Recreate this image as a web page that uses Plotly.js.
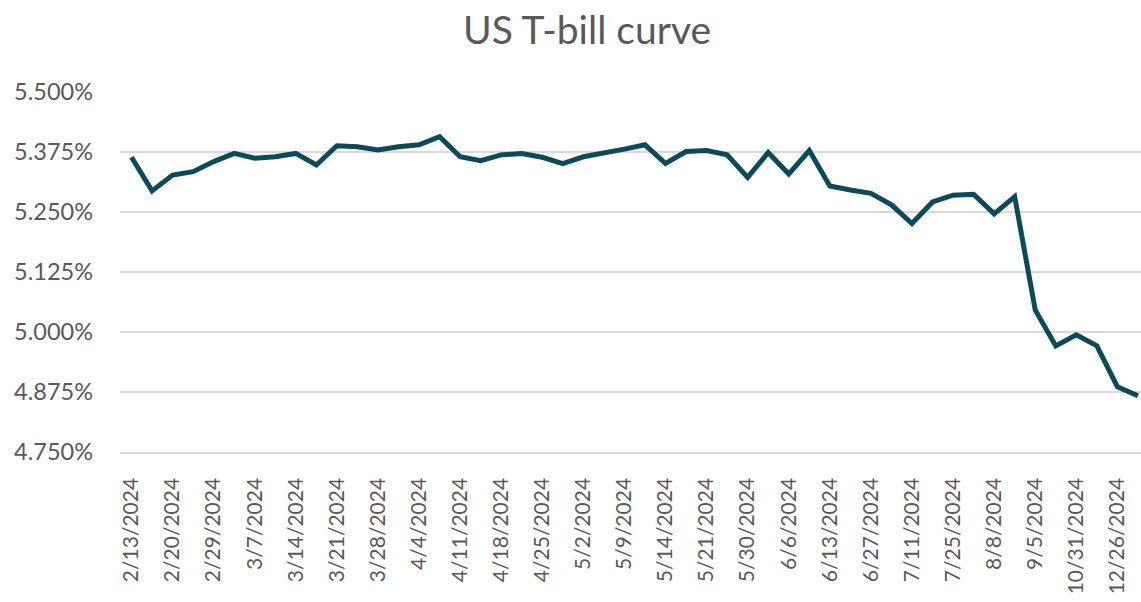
<!DOCTYPE html>
<html>
<head>
<meta charset="utf-8">
<script src="https://cdn.plot.ly/plotly-3.0.1.min.js"></script>
<style>
  html, body { margin: 0; padding: 0; background: #ffffff; }
  #chart { width: 1141px; height: 602px; }
</style>
</head>
<body>
<div id="chart"></div>
<script>
// Tick labels shown on the category axis (every other observation)
const tickLabels = [
  "2/13/2024", "2/20/2024", "2/29/2024", "3/7/2024", "3/14/2024", "3/21/2024",
  "3/28/2024", "4/4/2024", "4/11/2024", "4/18/2024", "4/25/2024", "5/2/2024",
  "5/9/2024", "5/14/2024", "5/21/2024", "5/30/2024", "6/6/2024", "6/13/2024",
  "6/27/2024", "7/11/2024", "7/25/2024", "8/8/2024", "9/5/2024", "10/31/2024",
  "12/26/2024"
];

const yields = [
  5.364, 5.294, 5.327, 5.334, 5.355, 5.372, 5.362, 5.365, 5.372, 5.348,
  5.388, 5.386, 5.379, 5.386, 5.390, 5.407, 5.365, 5.357, 5.369, 5.372,
  5.364, 5.351, 5.365, 5.372, 5.381, 5.390, 5.351, 5.376, 5.378, 5.369,
  5.322, 5.374, 5.329, 5.378, 5.304, 5.296, 5.289, 5.265, 5.226, 5.271,
  5.285, 5.287, 5.246, 5.282, 5.046, 4.971, 4.994, 4.971, 4.886, 4.867
];

const xIndex = yields.map((_, i) => i);
const tickPositions = tickLabels.map((_, i) => i * 2);

const trace = {
  x: xIndex,
  y: yields,
  type: 'scatter',
  mode: 'lines',
  line: { color: '#0b4a5a', width: 5 },
  hoverinfo: 'y'
};

const layout = {
  width: 1141,
  height: 602,
  paper_bgcolor: '#ffffff',
  plot_bgcolor: '#ffffff',
  margin: { l: 120, r: 0, t: 92, b: 150 },
  showlegend: false,
  font: { family: 'Lato, "Open Sans", sans-serif', color: '#595959' },
  title: {
    text: 'US T-bill curve',
    font: { size: 39, color: '#595959', family: 'Lato, "Open Sans", sans-serif' },
    xref: 'container', yref: 'container',
    x: 0.5145, xanchor: 'center',
    y: 0.95, yanchor: 'middle'
  },
  xaxis: {
    range: [-0.56, 49.15],
    tickmode: 'array',
    tickvals: tickPositions,
    ticktext: tickLabels,
    tickangle: -90,
    tickfont: { size: 21, color: '#595959' },
    showgrid: false,
    zeroline: false,
    showline: true,
    linecolor: '#d9d9d9',
    linewidth: 1.5,
    ticks: '',
    ticklabelstandoff: 16,
    fixedrange: true
  },
  yaxis: {
    range: [4.75, 5.5],
    tickmode: 'linear',
    tick0: 4.75,
    dtick: 0.125,
    tickformat: '.3f',
    ticksuffix: '%',
    tickfont: { size: 23.5, color: '#595959' },
    showgrid: true,
    gridcolor: '#d9d9d9',
    gridwidth: 1.5,
    zeroline: false,
    showline: false,
    ticks: '',
    ticklabelstandoff: 26,
    fixedrange: true
  }
};

Plotly.newPlot('chart', [trace], layout, { displayModeBar: false, staticPlot: true });
</script>
</body>
</html>
